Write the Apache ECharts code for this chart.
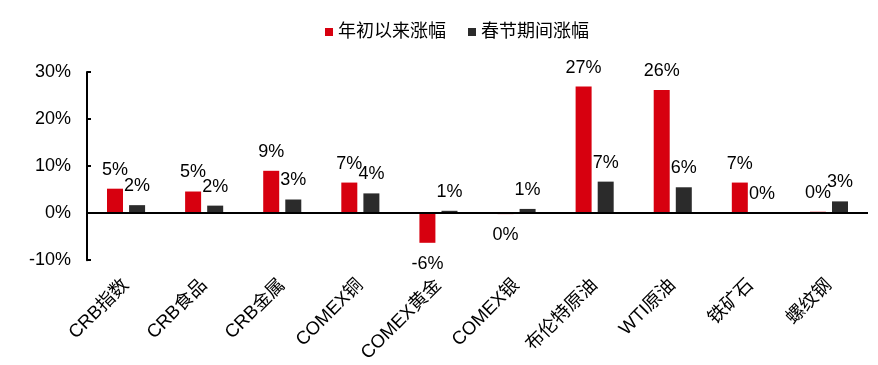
<!DOCTYPE html>
<html><head><meta charset="utf-8">
<script src="https://cdn.jsdelivr.net/npm/echarts@6/dist/echarts.min.js"></script>
<style>html,body{margin:0;padding:0;background:#fff}#c{width:878px;height:365px}</style>
</head><body><div id="c"></div>
<script>
const categories = ['CRB指数','CRB食品','CRB金属','COMEX铜','COMEX黄金','COMEX银','布伦特原油','WTI原油','铁矿石','螺纹钢'];
const ytdRise = [5.2, 4.6, 9.0, 6.5, -6.3, -0.2, 26.9, 26.2, 6.5, 0.3];
const festivalRise = [1.7, 1.6, 2.9, 4.2, 0.5, 0.9, 6.7, 5.5, 0.0, 2.5];
const seriesNames = ['年初以来涨幅', '春节期间涨幅'];
const yTicks = {min: -10, max: 30, interval: 10};

const FONT = 'Arial, "Liberation Sans", "Noto Sans CJK SC", sans-serif';
const chart = echarts.init(document.getElementById('c'));
const lbl = {show: true, position: 'top', distance: 10, color: '#000', fontSize: 18, fontFamily: FONT,
  formatter: p => Math.round(p.value) + '%'};
const toData = arr => arr.map(v => v < 0 ? {value: v, label: {position: 'bottom', distance: 12}} : v);
chart.setOption({
  animation: false,
  textStyle: {fontFamily: FONT},
  legend: {top: 18, left: 320, itemWidth: 8, itemHeight: 8, itemGap: 22, icon: 'rect',
    textStyle: {fontSize: 18, color: '#000', fontFamily: FONT}, data: seriesNames},
  grid: {left: 87, right: 10, top: 72, bottom: 104},
  xAxis: {type: 'category', data: categories,
    axisLine: {show: false, onZero: false}, axisTick: {show: false},
    axisLabel: {rotate: 45, margin: 22, fontSize: 18.5, color: '#000', fontFamily: FONT, interval: 0}},
  yAxis: {type: 'value', min: yTicks.min, max: yTicks.max, interval: yTicks.interval,
    splitLine: {show: false},
    axisLine: {show: true, lineStyle: {color: '#000', width: 2}},
    axisTick: {show: true, inside: true, length: 4, lineStyle: {color: '#000', width: 2}},
    axisLabel: {formatter: '{value}%', fontSize: 18, color: '#000', margin: 16, fontFamily: FONT}},
  series: [
    {name: seriesNames[0], type: 'bar', data: toData(ytdRise), barWidth: 16, barGap: '38%',
     itemStyle: {color: '#D7000F'},
     label: lbl,
     markLine: {silent: true, symbol: 'none', label: {show: false},
       lineStyle: {color: '#000', width: 2, type: 'solid'}, data: [{yAxis: 0}]}},
    {name: seriesNames[1], type: 'bar', data: toData(festivalRise), barWidth: 16,
     itemStyle: {color: '#2B2B2B'}, label: lbl}
  ]
});
</script></body></html>
